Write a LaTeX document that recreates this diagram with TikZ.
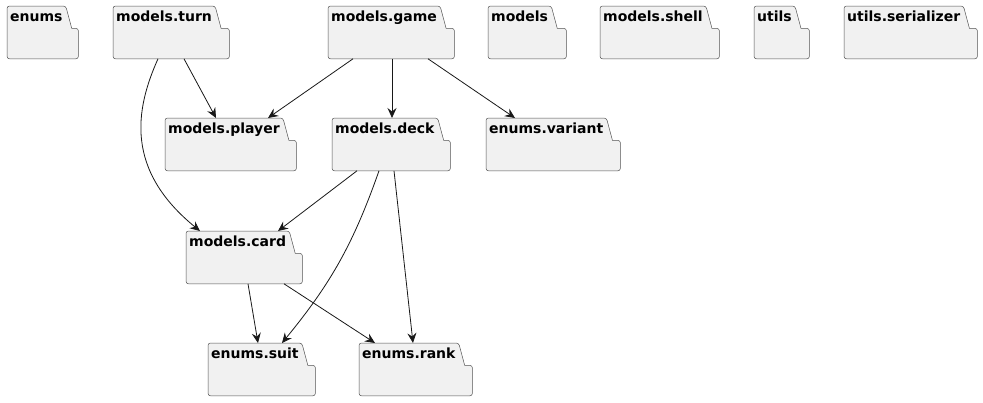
\documentclass[tikz,border=0pt]{standalone}
\usepackage{fontspec}
\setmainfont{DejaVu Sans}
\usetikzlibrary{arrows.meta, positioning, backgrounds}
\definecolor{pkgfill}{HTML}{F1F1F1}
\definecolor{pkgline}{HTML}{181818}
\tikzset{
pkg tab/.style={anchor=north west, inner xsep=3pt, inner ysep=0pt, text height=15pt, text depth=7pt, font=\fontsize{14}{16}\selectfont\bfseries}, % the title tab on top of a package
pkg body/.style={anchor=north west, inner sep=0pt, minimum height=30pt}, % the box under the tab
pkg outline/.style={fill=pkgfill, draw=pkgline!75, line width=0.5pt, rounded corners=2.5pt}, % outline of tab and box together
dep/.style={draw=pkgline, line width=0.8pt, -{Stealth[length=10pt,width=9pt,inset=3.5pt]}}, % a dependency arrow
}
% #1 name, #2 top left corner of the tab, #3 width of the box, #4 title
\newcommand{\package}[4]{%
\node[pkg tab] (#1-tab) at (#2) {#4};
\node[pkg body, minimum width=#3pt] (#1) at (#1-tab.south west) {};
\begin{scope}[on background layer]
\path[pkg outline] (#1.south west) -- (#1-tab.north west) -- (#1-tab.north east)
[sharp corners] -- ([xshift=6pt]#1-tab.south east)
[rounded corners=2.5pt] -- (#1.north east) -- (#1.south east) -- cycle;
\end{scope}
}

\begin{document}
\begin{tikzpicture}[x=1pt,y=-1pt,>=Stealth]
\useasboundingbox (0,0) rectangle (983,402);
% top row
\package{enums}{7,6}{71}{enums}
\package{turn}{113,6}{116}{models.turn}
\package{game}{328,6}{126}{models.game}
\package{models}{488,6}{78}{models}
\package{shell}{600,6}{119}{models.shell}
\package{utils}{754,6}{55}{utils}
\package{serializer}{844,6}{133}{utils.serializer}
% second row
\package{player}{165,118}{131}{models.player}
\package{deck}{332,118}{118}{models.deck}
\package{variant}{486,118}{134}{enums.variant}
% third and fourth row
\package{card}{186,231}{116}{models.card}
\package{suit}{208,343}{107}{enums.suit}
\package{rank}{359,343}{113}{enums.rank}

\draw[dep] ([xshift=71pt]turn.south west) -- ([xshift=51pt]player-tab.north west);
\draw[dep] ([xshift=45pt]turn.south west) .. controls (135,110) and (125,170) .. ([xshift=14pt]card-tab.north west);
\draw[dep] ([xshift=25pt]game.south west) -- ([xshift=103pt]player-tab.north west);
\draw[dep] ([xshift=64pt]game.south west) -- ([xshift=60pt]deck-tab.north west);
\draw[dep] ([xshift=100pt]game.south west) -- ([xshift=29pt]variant-tab.north west);
\draw[dep] ([xshift=25pt]deck.south west) -- ([xshift=92pt]card-tab.north west);
\draw[dep] ([xshift=47pt]deck.south west) to[bend left=10] ([xshift=74pt]suit-tab.north west);
\draw[dep] ([xshift=62pt]deck.south west) -- ([xshift=54pt]rank-tab.north west);
\draw[dep] ([xshift=62pt]card.south west) -- ([xshift=50pt]suit-tab.north west);
\draw[dep] ([xshift=98pt]card.south west) -- ([xshift=16pt]rank-tab.north west);
\end{tikzpicture}
\end{document}
